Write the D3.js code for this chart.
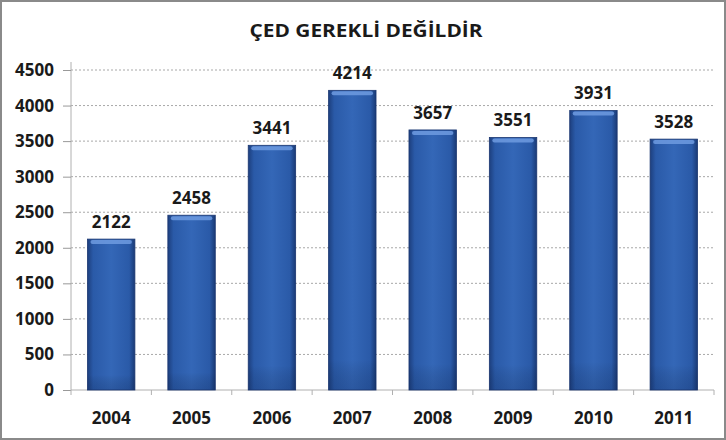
<!DOCTYPE html>
<html><head><meta charset="utf-8">
<script src="https://cdn.jsdelivr.net/npm/d3@7"></script>
<style>body{margin:0;background:#fff}svg{display:block}</style>
</head><body>
<script>
const years = ["2004","2005","2006","2007","2008","2009","2010","2011"];
const values = [2122,2458,3441,4214,3657,3551,3931,3528];
const yTicks = [0,500,1000,1500,2000,2500,3000,3500,4000,4500];
const title = "ÇED GEREKLİ DEĞİLDİR";

const W=726,H=440;
const svg=d3.select("body").append("svg").attr("width",W).attr("height",H);
const defs=svg.append("defs");
const g1=defs.append("linearGradient").attr("id","barH").attr("x1","0").attr("x2","1").attr("y1","0").attr("y2","0");
[[0,"#1d3f7e"],[0.12,"#2a5aa8"],[0.5,"#3467b7"],[0.88,"#2a5aa8"],[1,"#1a3a75"]].forEach(s=>g1.append("stop").attr("offset",s[0]).attr("stop-color",s[1]));
const g2=defs.append("linearGradient").attr("id","barV").attr("x1","0").attr("x2","0").attr("y1","0").attr("y2","1");
[[0,"#000",0],[0.9,"#000",0],[1,"#0a1f4a",0.2]].forEach(s=>g2.append("stop").attr("offset",s[0]).attr("stop-color",s[1]).attr("stop-opacity",s[2]));

svg.append("rect").attr("x",1).attr("y",1).attr("width",W-2).attr("height",H-2).attr("fill","#fff").attr("stroke","#8a8a8a").attr("stroke-width",2);

const ff="'Open Sans', sans-serif";
svg.append("text").attr("x",366).attr("y",37).attr("text-anchor","middle")
 .attr("font-family",ff).attr("font-weight","bold").attr("font-size",18)
 .attr("textLength",233).attr("lengthAdjust","spacingAndGlyphs").attr("fill","#1a1a1a").text(title);

const x=d3.scaleBand().domain(years).range([71,714]).paddingInner(0.41).paddingOuter(0.205);
const y=d3.scaleLinear().domain([0,4500]).range([390,70]);

// gridlines
svg.append("g").selectAll("line").data(yTicks.filter(d=>d>0)).join("line")
 .attr("x1",71).attr("x2",714).attr("y1",d=>y(d)).attr("y2",d=>y(d))
 .attr("stroke","#a8a8a8").attr("stroke-width",1).attr("stroke-dasharray","2,2");

// y axis
const ya=svg.append("g").attr("transform","translate(71,0)").call(d3.axisLeft(y).tickValues(yTicks).tickFormat(d3.format("d")).tickSize(8).tickPadding(9));
ya.select(".domain").attr("stroke","#b0b0b0").attr("d","M0,390V62");
ya.selectAll(".tick line").attr("stroke","#999");
ya.selectAll("text").attr("font-family",ff).attr("font-weight","bold").attr("font-size",17).attr("fill","#1a1a1a");

// x axis
const bounds=years.map((d,i)=>71+i*x.step()).concat([714]);
svg.append("line").attr("x1",71).attr("x2",714).attr("y1",390).attr("y2",390).attr("stroke","#b0b0b0");
svg.append("g").selectAll("line").data(bounds).join("line").attr("x1",d=>d).attr("x2",d=>d).attr("y1",390).attr("y2",395).attr("stroke","#b0b0b0");
svg.append("g").selectAll("text").data(years).join("text")
 .attr("x",d=>x(d)+x.bandwidth()/2).attr("y",424).attr("text-anchor","middle")
 .attr("font-family",ff).attr("font-weight","bold").attr("font-size",17).attr("fill","#1a1a1a").text(d=>d);

// bars
const bars=svg.append("g").selectAll("g").data(years.map((d,i)=>({k:d,v:values[i]}))).join("g");
bars.append("rect").attr("x",d=>x(d.k)).attr("y",d=>y(d.v)).attr("width",x.bandwidth()).attr("height",d=>390-y(d.v)).attr("fill","url(#barH)").attr("stroke","#1a3670").attr("stroke-width",0.8);
bars.append("rect").attr("x",d=>x(d.k)).attr("y",d=>y(d.v)).attr("width",x.bandwidth()).attr("height",d=>390-y(d.v)).attr("fill","url(#barV)");
bars.append("rect").attr("x",d=>x(d.k)+3).attr("y",d=>y(d.v)+1).attr("width",x.bandwidth()-6).attr("height",4).attr("rx",2).attr("fill","#6f9be0").attr("opacity",0.85);
bars.append("text").attr("x",d=>x(d.k)+x.bandwidth()/2).attr("y",d=>y(d.v)-11).attr("text-anchor","middle")
 .attr("font-family",ff).attr("font-weight","bold").attr("font-size",17).attr("fill","#1a1a1a").text(d=>d.v);
</script>
</body></html>
